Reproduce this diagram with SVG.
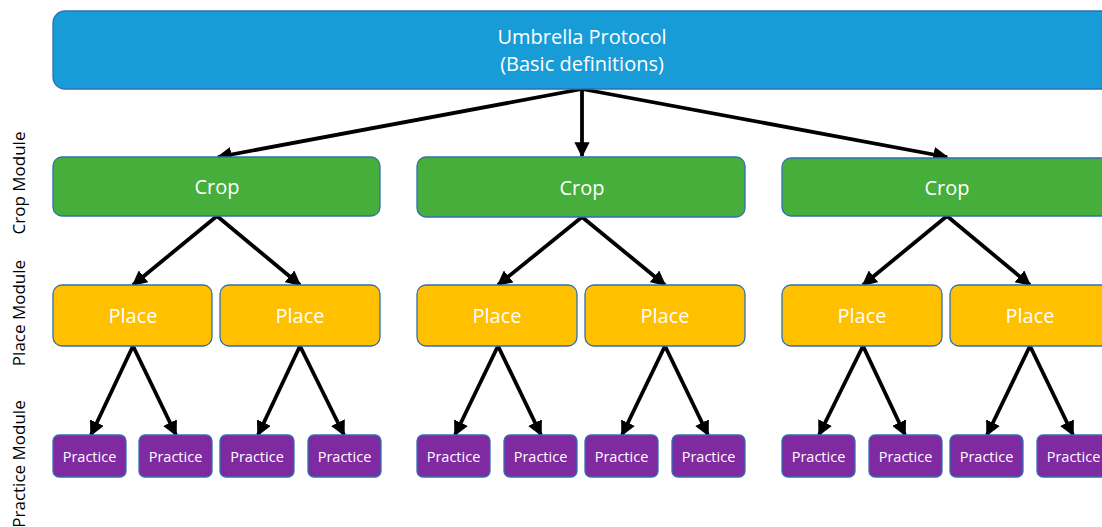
<svg xmlns="http://www.w3.org/2000/svg" width="1102" height="527" viewBox="0 0 1102 527">
<style>
.box{stroke:#2f6fb5;stroke-width:1.3}
.top{fill:#189cd8}
.crop{fill:#46ae3b}
.place{fill:#ffc000}
.prac{fill:#7f2aa0}
.t{font-family:"Open Sans","Liberation Sans",sans-serif;fill:#fff;text-anchor:middle}
.t20{font-size:20px}
.t14{font-size:14.5px}
.side{font-family:"Open Sans","Liberation Sans",sans-serif;font-size:17px;fill:#000;text-anchor:middle}
.c{stroke:#000;stroke-width:3.8;fill:none;marker-end:url(#ah)}
</style>
<defs>
<marker id="ah" viewBox="0 0 10 10" refX="9" refY="5" markerWidth="4" markerHeight="4" markerUnits="strokeWidth" orient="auto">
<path d="M0,0 L10,5 L0,10 z" fill="#000"/>
</marker>
</defs>
<rect width="1102" height="527" fill="#fff"/>
<g id="labels">
<text class="side" transform="translate(25,183) rotate(-90)">Crop Module</text>
<text class="side" transform="translate(25,313) rotate(-90)">Place Module</text>
<text class="side" transform="translate(25,464) rotate(-90)">Practice Module</text>
</g>
<g id="connectors">
<line class="c" x1="582" y1="89" x2="218" y2="157"/>
<line class="c" x1="582" y1="89" x2="582" y2="156"/>
<line class="c" x1="582" y1="89" x2="947" y2="157"/>
<line class="c" x1="217" y1="216" x2="133" y2="285"/>
<line class="c" x1="217" y1="216" x2="300" y2="285"/>
<line class="c" x1="582" y1="217" x2="498" y2="285"/>
<line class="c" x1="582" y1="217" x2="665" y2="285"/>
<line class="c" x1="947" y1="216" x2="863" y2="285"/>
<line class="c" x1="947" y1="216" x2="1030" y2="285"/>
<line class="c" x1="133" y1="346" x2="91" y2="435"/>
<line class="c" x1="133" y1="346" x2="176" y2="435"/>
<line class="c" x1="300" y1="346" x2="258" y2="435"/>
<line class="c" x1="300" y1="346" x2="344" y2="435"/>
<line class="c" x1="498" y1="346" x2="455" y2="435"/>
<line class="c" x1="498" y1="346" x2="541" y2="435"/>
<line class="c" x1="665" y1="346" x2="622" y2="435"/>
<line class="c" x1="665" y1="346" x2="708" y2="435"/>
<line class="c" x1="863" y1="346" x2="819" y2="435"/>
<line class="c" x1="863" y1="346" x2="905" y2="435"/>
<line class="c" x1="1030" y1="346" x2="987" y2="435"/>
<line class="c" x1="1030" y1="346" x2="1073" y2="435"/>
</g>
<g id="umbrella">
<rect class="box top" x="53" y="11" width="1070" height="78" rx="12"/>
<text class="t t20" x="582" y="44">Umbrella Protocol</text>
<text class="t t20" x="582" y="71">(Basic definitions)</text>
</g>
<g id="crop1"><rect class="box crop" x="53" y="157" width="327" height="59" rx="9"/><text class="t t20" x="217" y="194">Crop</text></g>
<g id="crop2"><rect class="box crop" x="417" y="157" width="328" height="60" rx="9"/><text class="t t20" x="582" y="195">Crop</text></g>
<g id="crop3"><rect class="box crop" x="782" y="158" width="340" height="58" rx="9"/><text class="t t20" x="947" y="195">Crop</text></g>
<g id="place1"><rect class="box place" x="53" y="285" width="159" height="61" rx="9"/><text class="t t20" x="133" y="323">Place</text></g>
<g id="place2"><rect class="box place" x="220" y="285" width="160" height="61" rx="9"/><text class="t t20" x="300" y="323">Place</text></g>
<g id="place3"><rect class="box place" x="417" y="285" width="160" height="61" rx="9"/><text class="t t20" x="497" y="323">Place</text></g>
<g id="place4"><rect class="box place" x="585" y="285" width="160" height="61" rx="9"/><text class="t t20" x="665" y="323">Place</text></g>
<g id="place5"><rect class="box place" x="782" y="285" width="160" height="61" rx="9"/><text class="t t20" x="862" y="323">Place</text></g>
<g id="place6"><rect class="box place" x="950" y="285" width="170" height="61" rx="9"/><text class="t t20" x="1030" y="323">Place</text></g>
<g id="prac1"><rect class="box prac" x="53" y="435" width="73" height="42" rx="6"/><text class="t t14" x="89.5" y="462">Practice</text></g>
<g id="prac2"><rect class="box prac" x="139" y="435" width="73" height="42" rx="6"/><text class="t t14" x="175.5" y="462">Practice</text></g>
<g id="prac3"><rect class="box prac" x="220" y="435" width="74" height="42" rx="6"/><text class="t t14" x="257" y="462">Practice</text></g>
<g id="prac4"><rect class="box prac" x="308" y="435" width="73" height="42" rx="6"/><text class="t t14" x="344.5" y="462">Practice</text></g>
<g id="prac5"><rect class="box prac" x="417" y="435" width="73" height="42" rx="6"/><text class="t t14" x="453.5" y="462">Practice</text></g>
<g id="prac6"><rect class="box prac" x="504" y="435" width="73" height="42" rx="6"/><text class="t t14" x="540.5" y="462">Practice</text></g>
<g id="prac7"><rect class="box prac" x="585" y="435" width="73" height="42" rx="6"/><text class="t t14" x="621.5" y="462">Practice</text></g>
<g id="prac8"><rect class="box prac" x="672" y="435" width="73" height="42" rx="6"/><text class="t t14" x="708.5" y="462">Practice</text></g>
<g id="prac9"><rect class="box prac" x="782" y="435" width="73" height="42" rx="6"/><text class="t t14" x="818.5" y="462">Practice</text></g>
<g id="prac10"><rect class="box prac" x="869" y="435" width="73" height="42" rx="6"/><text class="t t14" x="905.5" y="462">Practice</text></g>
<g id="prac11"><rect class="box prac" x="950" y="435" width="73" height="42" rx="6"/><text class="t t14" x="986.5" y="462">Practice</text></g>
<g id="prac12"><rect class="box prac" x="1037" y="435" width="73" height="42" rx="6"/><text class="t t14" x="1073.5" y="462">Practice</text></g>
</svg>
